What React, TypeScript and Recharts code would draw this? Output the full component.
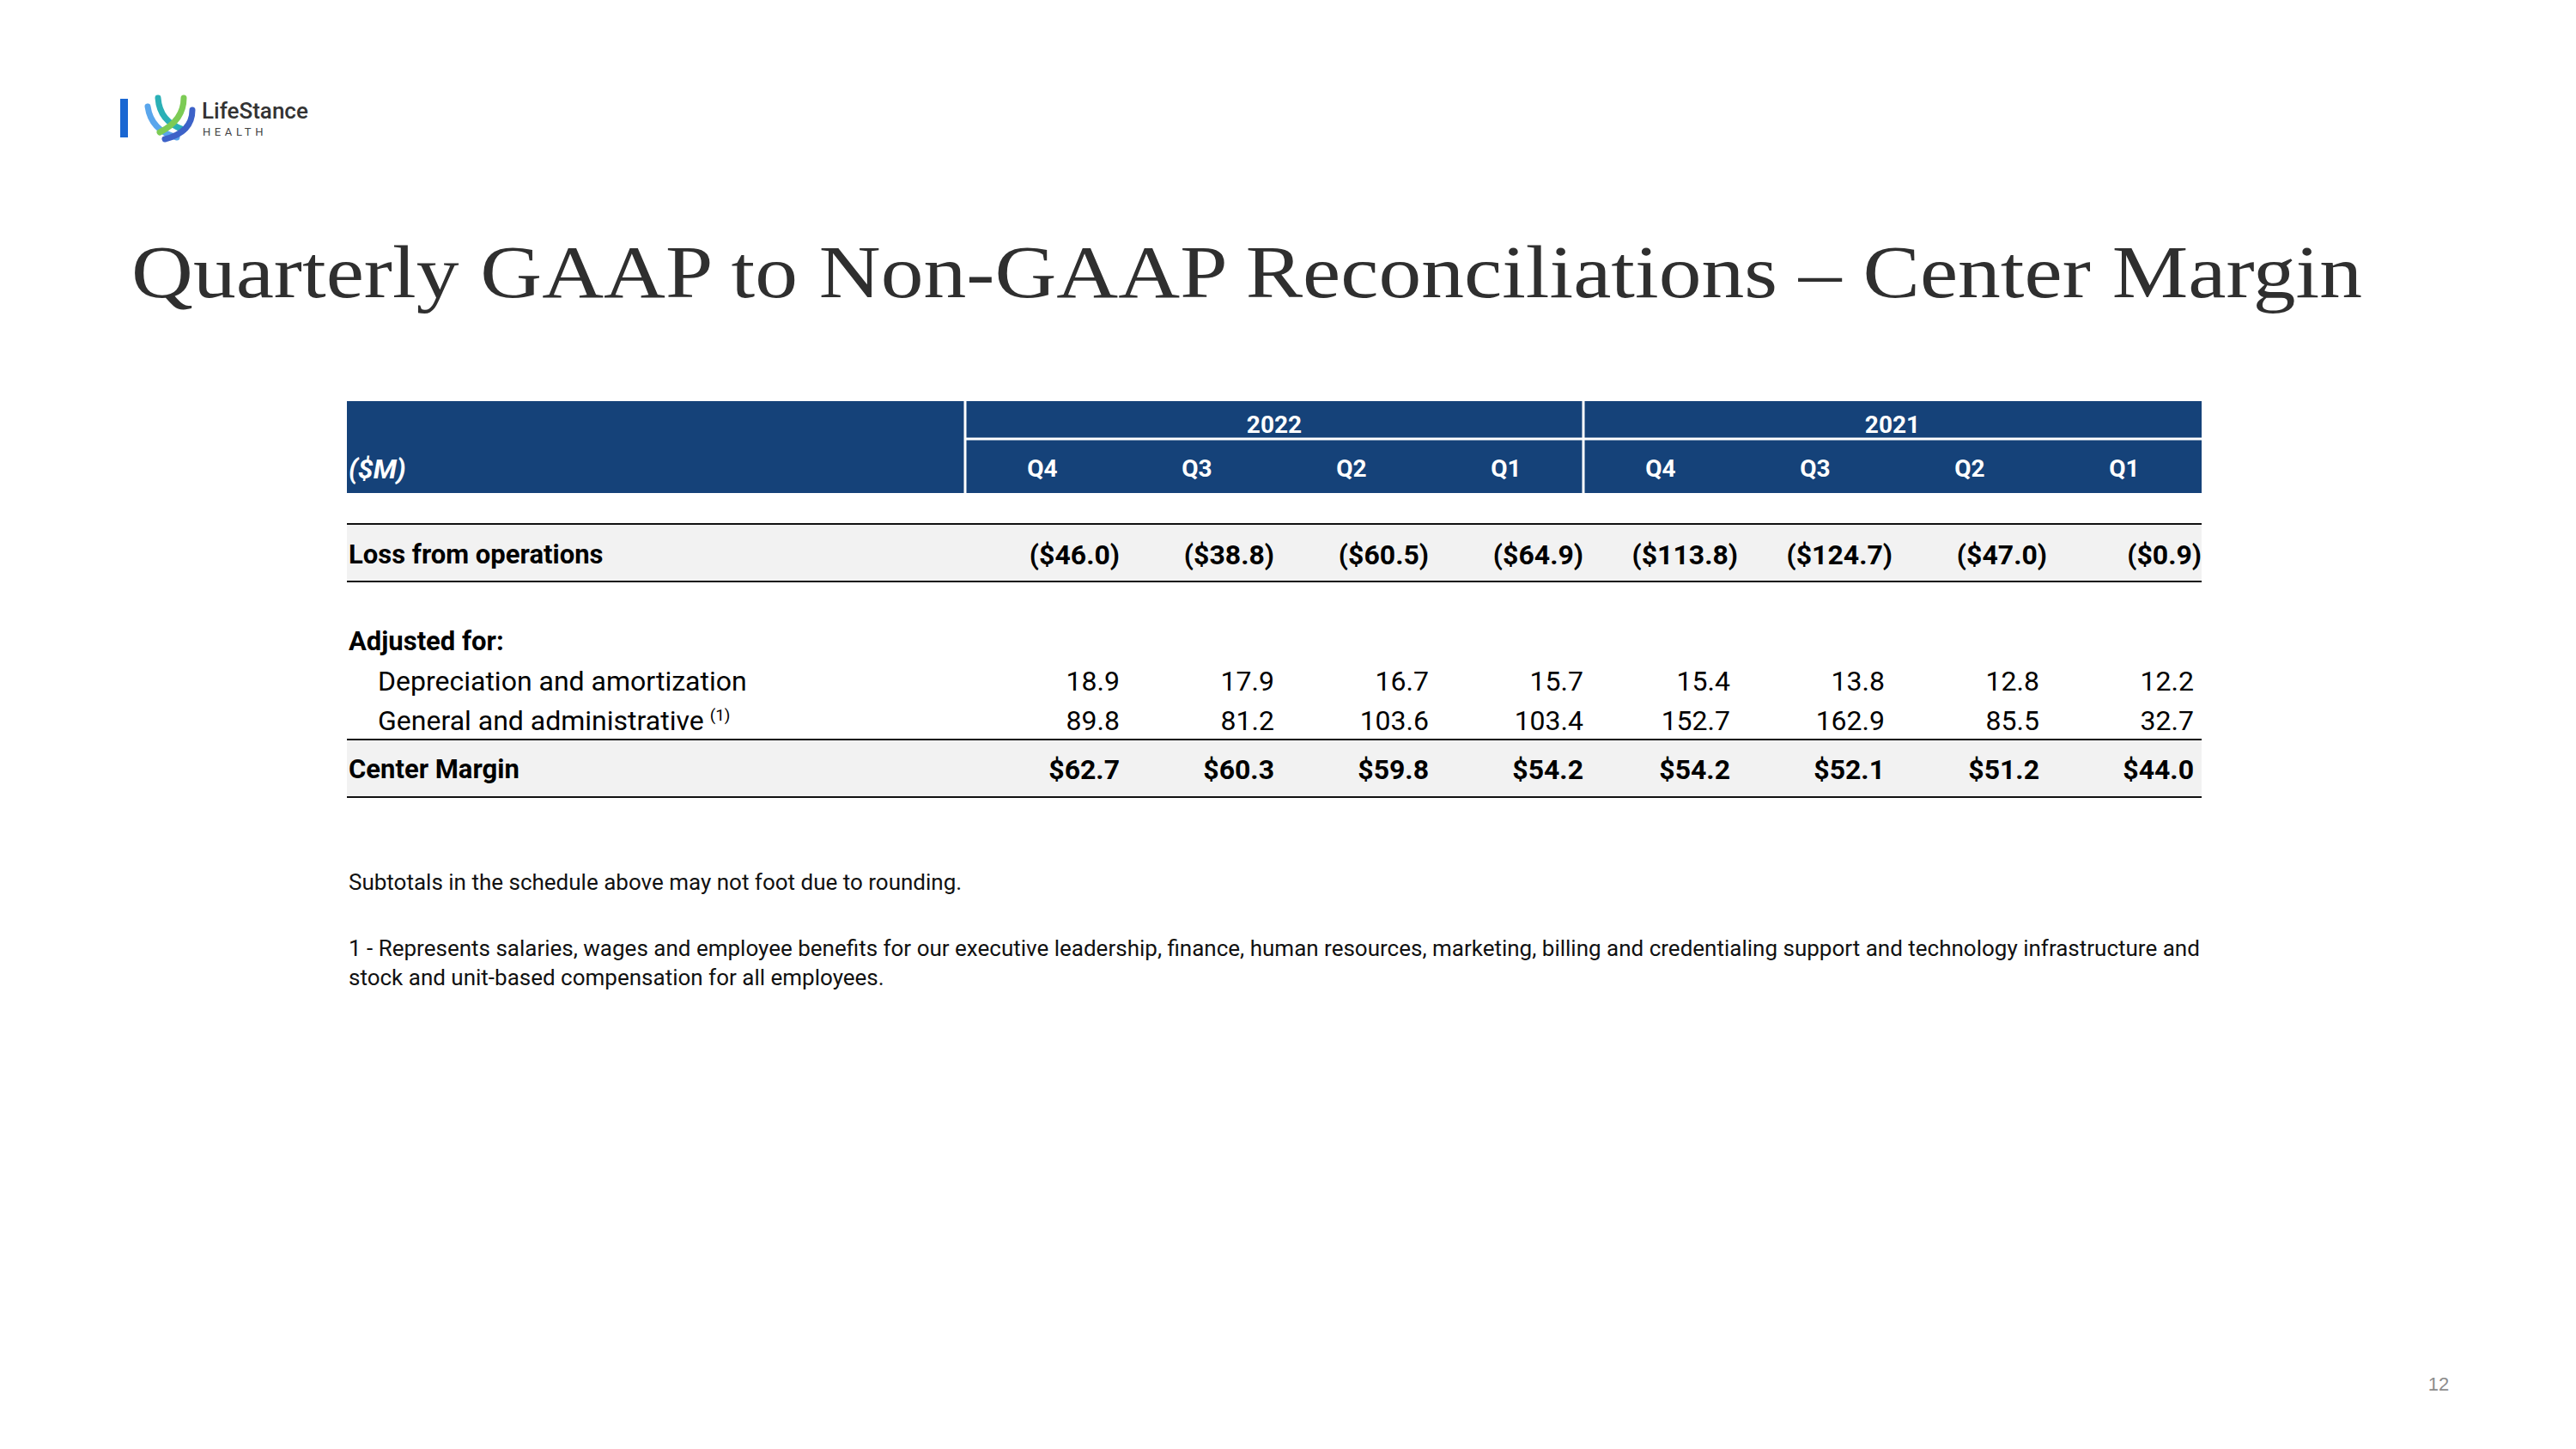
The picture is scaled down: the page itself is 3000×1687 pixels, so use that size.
import { ScatterChart, Scatter, XAxis, YAxis, ReferenceArea, ReferenceLine } from 'recharts';

// table content
const years = ['2022', '2021'];
const quarters = ['Q4', 'Q3', 'Q2', 'Q1', 'Q4', 'Q3', 'Q2', 'Q1'];
const unitLabel = '($M)';
const rowLabels = [
  'Loss from operations',
  'Adjusted for:',
  'Depreciation and amortization',
  'General and administrative',
  'Center Margin',
];
const lossFromOperations = [-46.0, -38.8, -60.5, -64.9, -113.8, -124.7, -47.0, -0.9];
const depreciationAmortization = [18.9, 17.9, 16.7, 15.7, 15.4, 13.8, 12.8, 12.2];
const generalAdministrative = [89.8, 81.2, 103.6, 103.4, 152.7, 162.9, 85.5, 32.7];
const centerMargin = [62.7, 60.3, 59.8, 54.2, 54.2, 52.1, 51.2, 44.0];

const title = 'Quarterly GAAP to Non-GAAP Reconciliations \u2013 Center Margin';
const footnotes = [
  'Subtotals in the schedule above may not foot due to rounding.',
  '1 - Represents salaries, wages and employee benefits for our executive leadership, finance, human resources, marketing, billing and credentialing support and technology infrastructure and',
  'stock and unit-based compensation for all employees.',
];

// layout (px)
const TABLE_LEFT = 404;
const TABLE_TOP = 467;
const COL_W = 180;
const LABEL_COLS = 4;
const TOTAL_COLS = LABEL_COLS + quarters.length;
const TABLE_H = 463;
const M = 20;

const HEADER_SPLIT = 44;
const HEADER_BOTTOM = 107;
const YEAR_Y = 27;
const QUARTER_Y = 78;
const LOSS_TOP = 143;
const LOSS_BOTTOM = 210;
const rowY = [178, 279, 325, 371, 428];
const CM_TOP = 394;
const CM_BOTTOM = 461;

const NAVY = '#154279';
const BAND = '#F2F2F2';
const FONT = "Roboto, 'Open Sans', sans-serif";

const money = (v: number) => (v < 0 ? `($${Math.abs(v).toFixed(1)})` : `$${v.toFixed(1)}`);
const plain = (v: number) => v.toFixed(1);

const valuePoints = (values: number[], y: number, fmt: (v: number) => string, hangs: boolean) =>
  values.map((v, i) => ({
    x: LABEL_COLS + i + 1,
    y,
    text: fmt(v),
    pad: i >= 4 && !hangs ? 9 : 0,
  }));

const textShape =
  (opts: { anchor: string; size: number; weight?: string; fill?: string; italic?: boolean; dx?: number; sup?: boolean }) =>
  (props: any) => {
    const { cx, cy, payload } = props;
    return (
      <text
        x={cx + (opts.dx ?? 0) - (payload.pad ?? 0)}
        y={cy}
        dy="0.36em"
        textAnchor={opts.anchor}
        fontFamily={FONT}
        fontSize={opts.size}
        fontWeight={opts.weight ?? 'normal'}
        fontStyle={opts.italic ? 'italic' : 'normal'}
        fill={opts.fill ?? '#000'}
      >
        {payload.text}
        {opts.sup ? (
          <tspan fontSize={19} dx={7} dy={-11}>
            (1)
          </tspan>
        ) : null}
      </text>
    );
  };

function Logo() {
  return (
    <g>
      <rect x={140} y={115} width={9} height={45} fill="#1a67d2" />
      <g fill="none" strokeLinecap="round" strokeWidth={7}>
        <path d="M172 124 Q176 152 206 160" stroke="#5aa6ec" />
        <path d="M184 114 Q186 142 214 151" stroke="#2bb0b6" />
        <path d="M214 114 Q214 140 186 154" stroke="#7ccb55" />
        <path d="M224 128 Q224 154 192 162" stroke="#3d62c8" />
      </g>
      <text x={235} y={138} fontFamily="Roboto, sans-serif" fontSize={26} fontWeight={500} fill="#333">
        LifeStance
      </text>
      <text x={236} y={158} fontFamily="Roboto, sans-serif" fontSize={13} letterSpacing={4.6} fill="#444">
        HEALTH
      </text>
    </g>
  );
}

export default function App() {
  const yearPoints = years.map((t, i) => ({ x: LABEL_COLS + i * 4 + 2, y: YEAR_Y, text: t }));
  const quarterPoints = quarters.map((t, i) => ({ x: LABEL_COLS + i + 0.5, y: QUARTER_Y, text: t }));
  const unitPoint = [{ x: 0, y: QUARTER_Y, text: unitLabel }];
  const boldLabels = [0, 1, 4].map((r) => ({ x: 0, y: rowY[r], text: rowLabels[r] }));
  const depLabel = [{ x: 0, y: rowY[2], text: rowLabels[2] }];
  const gaLabel = [{ x: 0, y: rowY[3], text: rowLabels[3] }];

  return (
    <div style={{ position: 'absolute', left: 0, top: 0, width: 3000, height: 1687, background: '#fff' }}>
      <svg width={3000} height={1687} style={{ position: 'absolute', left: 0, top: 0 }}>
        <Logo />
        <text
          x={153}
          y={346}
          fontFamily="'Liberation Serif', 'DejaVu Serif', serif"
          fontSize={86}
          fill="#2f2f2f"
          textLength={2598}
          lengthAdjust="spacingAndGlyphs"
        >
          {title}
        </text>
        <text x={406} y={1036} fontFamily={FONT} fontSize={26} fill="#111">
          {footnotes[0]}
        </text>
        <text x={406} y={1113} fontFamily={FONT} fontSize={26} fill="#111">
          {footnotes[1]}
        </text>
        <text x={406} y={1147} fontFamily={FONT} fontSize={26} fill="#111">
          {footnotes[2]}
        </text>
        <text x={2840} y={1619} textAnchor="middle" fontFamily="'Liberation Sans', Arial, sans-serif" fontSize={22} fill="#8c8c8c">
          12
        </text>
      </svg>

      <div style={{ position: 'absolute', left: TABLE_LEFT - M, top: TABLE_TOP - M }}>
        <ScatterChart
          width={COL_W * TOTAL_COLS + 2 * M}
          height={TABLE_H + 2 * M}
          margin={{ top: M, right: M, bottom: M, left: M }}
        >
          <XAxis type="number" dataKey="x" domain={[0, TOTAL_COLS]} allowDataOverflow hide />
          <YAxis type="number" dataKey="y" domain={[0, TABLE_H]} reversed allowDataOverflow hide />

          {/* header band */}
          <ReferenceArea x1={0} x2={TOTAL_COLS} y1={0} y2={HEADER_BOTTOM} fill={NAVY} fillOpacity={1} stroke="none" />
          <ReferenceLine segment={[{ x: LABEL_COLS, y: 0 }, { x: LABEL_COLS, y: HEADER_BOTTOM }]} stroke="#fff" strokeWidth={3} />
          <ReferenceLine segment={[{ x: LABEL_COLS + 4, y: 0 }, { x: LABEL_COLS + 4, y: HEADER_BOTTOM }]} stroke="#fff" strokeWidth={3} />
          <ReferenceLine segment={[{ x: LABEL_COLS, y: HEADER_SPLIT }, { x: TOTAL_COLS, y: HEADER_SPLIT }]} stroke="#fff" strokeWidth={3} />

          {/* shaded rows */}
          <ReferenceArea x1={0} x2={TOTAL_COLS} y1={LOSS_TOP} y2={LOSS_BOTTOM} fill={BAND} fillOpacity={1} stroke="none" />
          <ReferenceArea x1={0} x2={TOTAL_COLS} y1={CM_TOP} y2={CM_BOTTOM} fill={BAND} fillOpacity={1} stroke="none" />
          <ReferenceLine y={LOSS_TOP} stroke="#111" strokeWidth={2} />
          <ReferenceLine y={LOSS_BOTTOM} stroke="#111" strokeWidth={2} />
          <ReferenceLine y={CM_TOP} stroke="#111" strokeWidth={2} />
          <ReferenceLine y={CM_BOTTOM} stroke="#111" strokeWidth={2} />

          {/* header text */}
          <Scatter data={yearPoints} isAnimationActive={false} shape={textShape({ anchor: 'middle', size: 28, weight: 'bold', fill: '#fff' })} />
          <Scatter data={quarterPoints} isAnimationActive={false} shape={textShape({ anchor: 'middle', size: 28, weight: 'bold', fill: '#fff' })} />
          <Scatter data={unitPoint} isAnimationActive={false} shape={textShape({ anchor: 'start', size: 32, weight: 'bold', italic: true, fill: '#fff', dx: 2 })} />

          {/* row labels */}
          <Scatter data={boldLabels} isAnimationActive={false} shape={textShape({ anchor: 'start', size: 31, weight: 'bold', dx: 2 })} />
          <Scatter data={depLabel} isAnimationActive={false} shape={textShape({ anchor: 'start', size: 32, dx: 36 })} />
          <Scatter data={gaLabel} isAnimationActive={false} shape={textShape({ anchor: 'start', size: 32, dx: 36, sup: true })} />

          {/* values */}
          <Scatter data={valuePoints(lossFromOperations, rowY[0], money, true)} isAnimationActive={false} shape={textShape({ anchor: 'end', size: 32, weight: 'bold' })} />
          <Scatter data={valuePoints(depreciationAmortization, rowY[2], plain, false)} isAnimationActive={false} shape={textShape({ anchor: 'end', size: 32 })} />
          <Scatter data={valuePoints(generalAdministrative, rowY[3], plain, false)} isAnimationActive={false} shape={textShape({ anchor: 'end', size: 32 })} />
          <Scatter data={valuePoints(centerMargin, rowY[4], money, false)} isAnimationActive={false} shape={textShape({ anchor: 'end', size: 32, weight: 'bold' })} />
        </ScatterChart>
      </div>
    </div>
  );
}
